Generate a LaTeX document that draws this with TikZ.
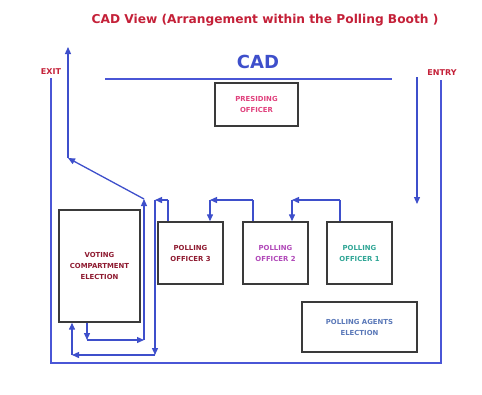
\documentclass[tikz,border=0pt]{standalone}
\usepackage{fontspec}
\setmainfont{DejaVu Sans}
\usetikzlibrary{arrows.meta}
\definecolor{flow}{HTML}{3E4FCB}
\definecolor{wall}{HTML}{4A56D6}
\definecolor{ttl}{HTML}{C42038}
\definecolor{dred}{HTML}{8E1A30}
\definecolor{mag}{HTML}{B048B8}
\definecolor{teal}{HTML}{2FA595}
\definecolor{pink}{HTML}{E0407C}
\definecolor{agent}{HTML}{5A78B8}
\definecolor{boxline}{HTML}{3A3A3A}
\tikzset{
  booth/.style={draw=boxline,line width=1.4pt,inner sep=0pt,align=center,font=\bfseries\fontsize{6.9}{8}\selectfont},
  arr/.style={draw=flow,line width=1.3pt,-{Triangle[length=7pt,width=6pt]}},
  ln/.style={draw=flow,line width=1.3pt},
  wl/.style={draw=wall,line width=1.2pt},
}
\begin{document}
\begin{tikzpicture}[x=1pt,y=-1pt]
\useasboundingbox (0,0) rectangle (482,394);
% title
\node[font=\bfseries\fontsize{12.2}{14}\selectfont,text=ttl] (title) at (265,20) {CAD View (Arrangement within the Polling Booth )};
\node[font=\bfseries\fontsize{18}{22}\selectfont,text=flow] (cad) at (258,62) {CAD};
\coordinate (cadL) at (105,79);
\coordinate (cadR) at (392,79);
\draw[draw=wall,line width=1.8pt] (cadL) -- (cadR);
\node[font=\bfseries\fontsize{8}{9}\selectfont,text=ttl] (exit) at (51,72) {EXIT};
\node[font=\bfseries\fontsize{8}{9}\selectfont,text=ttl] (entry) at (442,73) {ENTRY};
% boxes
\node[booth,minimum width=83pt,minimum height=43pt,text=pink] (po) at (256.5,104.5) {PRESIDING\\[3pt]OFFICER};
\node[booth,minimum width=81pt,minimum height=112pt,text=dred] (vc) at (99.5,266) {VOTING\\[3pt]COMPARTMENT\\[3pt]ELECTION};
\node[booth,minimum width=65pt,minimum height=62pt,text=dred] (p3) at (190.5,253) {POLLING\\[3pt]OFFICER 3};
\node[booth,minimum width=65pt,minimum height=62pt,text=mag] (p2) at (275.5,253) {POLLING\\[3pt]OFFICER 2};
\node[booth,minimum width=65pt,minimum height=62pt,text=teal] (p1) at (359.5,253) {POLLING\\[3pt]OFFICER 1};
\node[booth,minimum width=115pt,minimum height=50pt,text=agent] (pa) at (359.5,327) {POLLING AGENTS\\[3pt]ELECTION};
% walls
\coordinate (wTL) at (51,78);
\coordinate (wBL) at (51,363);
\coordinate (wBR) at (441,363);
\coordinate (wTR) at (441,80);
\draw[wl] (wTL) -- (wBL) -- (wBR) -- (wTR);
% entry
\coordinate (en1) at (417,77);
\coordinate (en2) at (417,204);
\draw[arr] (en1) -- (en2);
% officer 1 -> officer 2
\coordinate (d1) at (340,200);
\coordinate (d2) at (292,200);
\draw[ln] (p1.north -| d1) -- (d1);
\draw[arr] (d1) -- (d2);
\draw[arr] (d2) -- (p2.north -| d2);
% officer 2 -> officer 3
\coordinate (c1) at (253,200);
\coordinate (c2) at (210,200);
\draw[ln] (p2.north -| c1) -- (c1);
\draw[arr] (c1) -- (c2);
\draw[arr] (c2) -- (p3.north -| c2);
% officer 3 -> voting compartment
\coordinate (b1) at (168,200);
\coordinate (b2) at (155,200);
\coordinate (b3) at (155,355);
\coordinate (b4) at (72,355);
\draw[ln] (p3.north -| b1) -- (b1);
\draw[arr] (b1) -- (b2);
\draw[arr] (b2) -- (b3);
\draw[arr] (b3) -- (b4);
\draw[arr] (b4) -- (vc.south -| b4);
% voting compartment -> exit
\coordinate (a1) at (87,340);
\coordinate (a2) at (144,340);
\coordinate (a3) at (144,199);
\coordinate (a4) at (68,158);
\coordinate (a5) at (68,47);
\draw[arr] (vc.south -| a1) -- (a1);
\draw[arr] (a1) -- (a2);
\draw[arr] (a2) -- (a3);
\draw[arr] (a3) -- (a4);
\draw[arr] (a4) -- (a5);
\end{tikzpicture}
\end{document}
